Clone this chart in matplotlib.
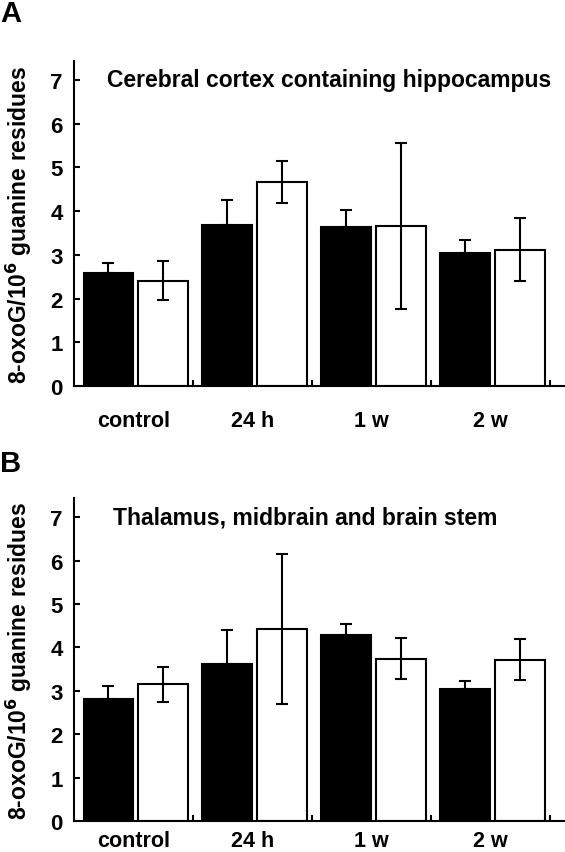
import numpy as np
import matplotlib
matplotlib.use("Agg")
import matplotlib.pyplot as plt

plt.rcParams['font.family'] = ['Liberation Sans', 'DejaVu Sans']
plt.rcParams['font.weight'] = 'bold'

groups = ['control', '24 h', '1 w', '2 w']

# panel A: cerebral cortex containing hippocampus
a_black = [2.58, 3.69, 3.63, 3.04]
a_black_err = [0.24, 0.57, 0.39, 0.29]
a_white = [2.41, 4.66, 3.65, 3.12]
a_white_err = [0.44, 0.48, 1.90, 0.72]

# panel B: thalamus, midbrain and brain stem
b_black = [2.81, 3.62, 4.29, 3.05]
b_black_err = [0.31, 0.78, 0.24, 0.17]
b_white = [3.15, 4.43, 3.74, 3.72]
b_white_err = [0.40, 1.73, 0.48, 0.47]

yticks = [0, 1, 2, 3, 4, 5, 6, 7]
ylabel = '8-oxoG/10$^\\mathbf{6}$ guanine residues'


def draw_panel(ax, black, black_err, white, white_err, title, title_x, ymax, label_pad):
    x = np.arange(len(groups))
    w = 0.42
    xb = x + 0.29
    xw = x + 0.75
    ax.bar(xb, black, w, color='black', edgecolor='black', linewidth=1.5, zorder=2)
    ax.bar(xw, white, w, color='white', edgecolor='black', linewidth=1.5, zorder=2)
    ax.errorbar(xb, black, yerr=[[0] * len(black), black_err], fmt='none',
                ecolor='black', elinewidth=1.5, capsize=4.5, capthick=1.5, zorder=3)
    ax.errorbar(xw, white, yerr=white_err, fmt='none',
                ecolor='black', elinewidth=1.5, capsize=4.5, capthick=1.5, zorder=3)

    ax.set_xlim(0, 4.13)
    ax.set_ylim(0, ymax)
    ax.spines['top'].set_visible(False)
    ax.spines['right'].set_visible(False)
    ax.spines['left'].set_linewidth(1.5)
    ax.spines['bottom'].set_linewidth(1.5)

    ax.set_yticks(yticks)
    ax.tick_params(axis='y', direction='in', length=4.5, width=1.5, pad=8, labelsize=16)

    # group boundaries as small inward ticks, labels at group centers
    ax.set_xticks([1, 2, 3, 4])
    ax.set_xticklabels([])
    ax.tick_params(axis='x', which='major', direction='in', length=4, width=1.5)
    ax.set_xticks(x + 0.5, minor=True)
    ax.set_xticklabels(groups, minor=True)
    ax.tick_params(axis='x', which='minor', length=0, pad=label_pad, labelsize=15.5)

    ax.text(title_x, 7.0, title, fontsize=16.5, fontweight='bold', va='center', ha='left')
    ax.set_ylabel(ylabel, fontsize=16.5, fontweight='bold')
    ax.yaxis.set_label_coords(-0.082, 0.5)


fig = plt.figure(figsize=(5.65, 8.53), dpi=100)
ax1 = fig.add_axes([0.131, 0.5463, 0.869, 0.381])
ax2 = fig.add_axes([0.131, 0.0363, 0.869, 0.3787])

draw_panel(ax1, a_black, a_black_err, a_white, a_white_err,
           'Cerebral cortex containing hippocampus', 0.28, 7.43, 17)
draw_panel(ax2, b_black, b_black_err, b_white, b_white_err,
           'Thalamus, midbrain and brain stem', 0.33, 7.44, 6.5)

fig.text(0.0, 0.974, 'A', fontsize=21, fontweight='bold', va='baseline', ha='left')
fig.text(0.0, 0.4467, 'B', fontsize=21, fontweight='bold', va='baseline', ha='left')

plt.savefig('out.png', dpi=100)
